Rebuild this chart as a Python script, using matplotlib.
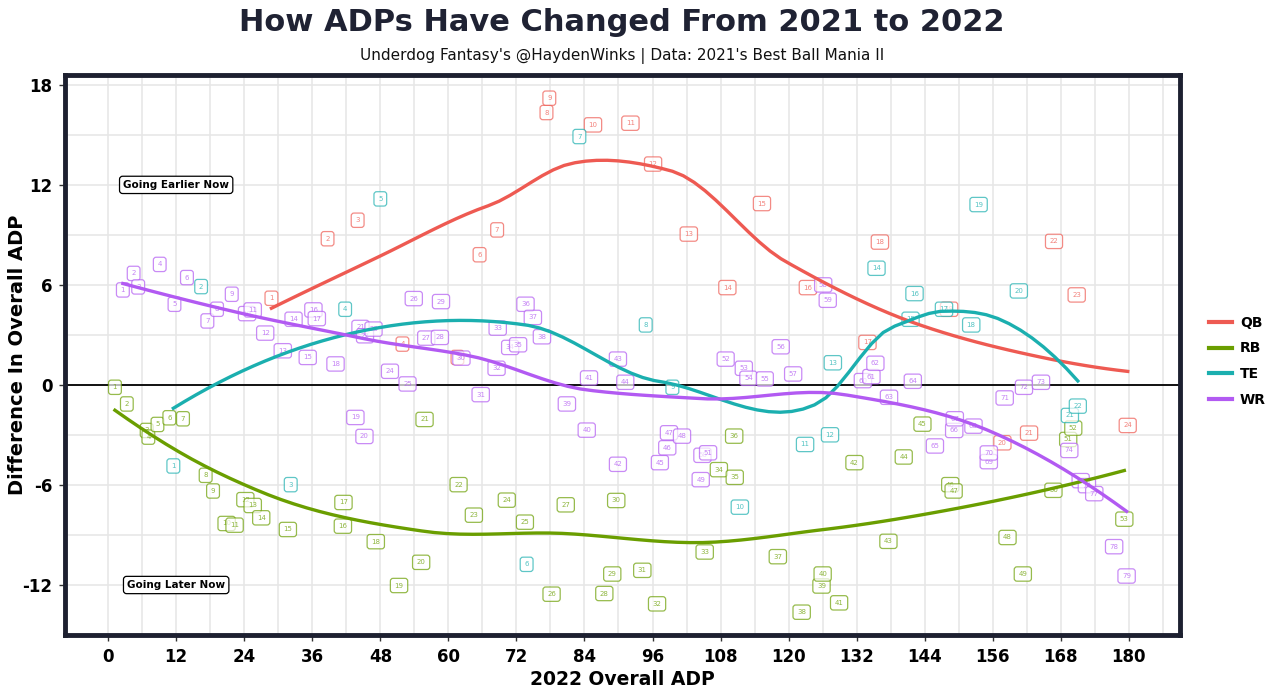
import numpy as np
import matplotlib.pyplot as plt
from matplotlib.lines import Line2D

plt.rcParams['axes.unicode_minus'] = False

# 2022 overall ADP and ADP change (2021 - 2022), labelled by positional rank
qb_adp = [28.8, 38.7, 44.0, 51.9, 61.6, 65.5, 68.6, 77.3, 77.8, 85.5, 92.1, 96.1,
          102.4, 109.2, 115.3, 123.4, 133.9, 136.1, 148.3, 157.7, 162.4, 166.8, 170.8, 179.8]
qb_diff = [5.2, 8.77, 9.88, 2.45, 1.65, 7.81, 9.3, 16.34, 17.2, 15.6, 15.7, 13.25,
           9.05, 5.84, 10.88, 5.84, 2.55, 8.57, 4.54, -3.47, -2.89, 8.61, 5.40, -2.43]

rb_adp = [1.2, 3.3, 6.8, 7.1, 8.7, 10.8, 13.2, 17.2, 18.5, 20.9, 22.3, 24.2, 25.5, 27.0,
          31.7, 41.4, 41.5, 47.2, 51.3, 55.2, 55.8, 61.8, 64.5, 70.3, 73.5, 78.2, 80.7,
          87.5, 88.9, 89.6, 94.2, 96.8, 105.2, 107.7, 110.5, 110.4, 118.1, 122.3, 125.8,
          126.0, 128.9, 131.6, 137.6, 140.3, 143.6, 148.5, 149.1, 158.6, 161.3, 166.7,
          169.3, 170.2, 179.2]
rb_diff = [-0.14, -1.14, -2.73, -3.13, -2.37, -1.97, -2.03, -5.42, -6.36, -8.31, -8.41,
           -6.88, -7.23, -7.97, -8.67, -8.47, -7.05, -9.4, -12.03, -10.64, -2.07, -5.98,
           -7.81, -6.91, -8.23, -12.55, -7.19, -12.51, -11.34, -6.93, -11.12, -13.13,
           -10.02, -5.08, -5.54, -3.07, -10.3, -13.63, -12.06, -11.34, -13.07, -4.66,
           -9.38, -4.32, -2.35, -5.98, -6.36, -9.15, -11.34, -6.32, -3.27, -2.59, -8.05]

te_adp = [11.5, 16.4, 32.2, 41.8, 48.0, 73.8, 83.1, 94.8, 99.5, 111.4, 122.9, 127.3,
          127.8, 135.5, 141.5, 142.2, 147.4, 152.2, 153.5, 160.6, 169.6, 171.0]
te_diff = [-4.86, 5.9, -5.98, 4.54, 11.16, -10.76, 14.9, 3.6, -0.14, -7.33, -3.57, -2.99,
           1.33, 7.0, 3.94, 5.48, 4.54, 3.6, 10.82, 5.64, -1.83, -1.27]

wr_adp = [2.6, 4.5, 5.3, 9.1, 11.7, 13.9, 17.5, 19.2, 21.8, 24.5, 25.5, 27.7, 30.8, 32.7,
          35.2, 36.2, 36.8, 40.1, 43.6, 45.2, 44.5, 45.3, 46.8, 49.7, 52.8, 53.9, 56.1,
          58.5, 58.7, 62.3, 65.7, 68.5, 68.7, 70.9, 72.3, 73.6, 74.9, 76.5, 80.9, 84.4,
          84.8, 89.9, 89.9, 91.2, 97.3, 98.6, 98.9, 101.2, 104.5, 104.8, 105.8, 108.9,
          112.1, 112.9, 115.8, 118.6, 120.8, 126.1, 126.9, 133.1, 134.6, 135.3, 137.7,
          141.9, 145.8, 149.2, 149.3, 152.6, 155.3, 155.3, 158.1, 161.5, 164.5, 169.5,
          171.5, 172.6, 173.9, 177.4, 179.6]
wr_diff = [5.70, 6.69, 5.88, 7.23, 4.84, 6.44, 3.84, 4.54, 5.44, 4.28, 4.50, 3.11, 2.05,
           3.94, 1.65, 4.50, 3.98, 1.26, -1.95, -3.09, 3.45, 2.95, 3.35, 0.82, 0.06, 5.18,
           2.81, 2.85, 5.0, 1.61, -0.58, 1.0, 3.41, 2.25, 2.41, 4.84, 4.05, 2.89, -1.14,
           -2.71, 0.42, -4.76, 1.55, 0.16, -4.66, -3.77, -2.87, -3.07, -5.68, -4.22, -4.07,
           1.55, 1.0, 0.4, 0.36, 2.29, 0.66, 6.0, 5.08, 0.26, 0.50, 1.30, -0.74, 0.22,
           -3.66, -2.73, -2.03, -2.47, -4.6, -4.08, -0.78, -0.14, 0.16, -3.93, -5.74,
           -6.04, -6.52, -9.7, -11.46]

positions = ['QB', 'RB', 'TE', 'WR']
series = {'QB': (qb_adp, qb_diff), 'RB': (rb_adp, rb_diff),
          'TE': (te_adp, te_diff), 'WR': (wr_adp, wr_diff)}
colors = {'QB': '#EE5A52', 'RB': '#6A9E00', 'TE': '#1BAFAF', 'WR': '#B25AF2'}


def local_fit(x, y, x0, q):
    d = np.abs(x - x0)
    h = np.sort(d)[q - 1]
    w = np.clip(1 - (d / h) ** 3, 0, None) ** 3
    X = np.column_stack([np.ones_like(x), x - x0, (x - x0) ** 2])
    W = np.diag(w)
    beta = np.linalg.lstsq(X.T @ W @ X, X.T @ W @ y, rcond=None)[0]
    return beta[0], beta[1]


def kd_vertices(x, lo, hi, fc):
    pts = np.sort(x[(x >= lo) & (x <= hi)])
    if len(pts) <= fc:
        return [lo, hi]
    m = len(pts)
    split = pts[m // 2] if m % 2 else 0.5 * (pts[m // 2 - 1] + pts[m // 2])
    if split <= lo or split >= hi:
        return [lo, hi]
    return kd_vertices(x, lo, split, fc) + kd_vertices(x, split, hi, fc)


def loess(x, y, span=0.75, n=80):
    # loess like R: fits at kd-tree vertices, cubic Hermite in between
    x = np.asarray(x, float)
    y = np.asarray(y, float)
    q = int(np.floor(len(x) * span))
    fc = max(int(np.floor(len(x) * span * 0.2)), 1)
    verts = np.unique(kd_vertices(x, x.min(), x.max(), fc))
    fits = [local_fit(x, y, v, q) for v in verts]
    vals = np.array([f[0] for f in fits])
    slopes = np.array([f[1] for f in fits])
    xs = np.linspace(x.min(), x.max(), n)
    ys = []
    for x0 in xs:
        i = min(np.searchsorted(verts, x0, side='right') - 1, len(verts) - 2)
        x1, x2 = verts[i], verts[i + 1]
        hh = x2 - x1
        t = (x0 - x1) / hh
        h00 = 2 * t ** 3 - 3 * t ** 2 + 1
        h10 = t ** 3 - 2 * t ** 2 + t
        h01 = -2 * t ** 3 + 3 * t ** 2
        h11 = t ** 3 - t ** 2
        ys.append(h00 * vals[i] + h10 * hh * slopes[i] + h01 * vals[i + 1] + h11 * hh * slopes[i + 1])
    return xs, np.array(ys)


fig = plt.figure(figsize=(12.8, 6.95), dpi=100)
ax = fig.add_axes([0.0508, 0.0863, 0.871, 0.806])

ax.set_xlim(-7.6, 189)
ax.set_ylim(-14.9, 18.6)
ax.set_xticks(range(0, 181, 12))
ax.set_yticks([-12, -6, 0, 6, 12, 18])
ax.set_xticks(range(6, 190, 12), minor=True)
ax.set_yticks(np.arange(-15, 19, 3), minor=True)
ax.grid(which='both', color='#E6E6E6', linewidth=1.1)
ax.set_axisbelow(True)
ax.axhline(0, color='black', linewidth=1.3, zorder=2)

for pos in positions:
    xs, ys = series[pos]
    c = colors[pos]
    for i, (xv, yv) in enumerate(zip(xs, ys)):
        ax.text(xv, yv, str(i + 1), fontsize=5, color=c, alpha=0.75,
                ha='center', va='center', zorder=3,
                bbox=dict(boxstyle='round,pad=0.6,rounding_size=0.4',
                          fc='white', ec=c, lw=0.9, alpha=0.7))

for pos in positions:
    xs, ys = series[pos]
    lx, ly = loess(xs, ys)
    ax.plot(lx, ly, color=colors[pos], linewidth=2.4, zorder=4)

box = dict(boxstyle='round,pad=0.35,rounding_size=0.3', fc='white', ec='black', lw=0.9)
ax.text(12, 12, 'Going Earlier Now', fontsize=7.5, fontweight='bold', ha='center',
        va='center', bbox=box, zorder=5)
ax.text(12, -12, 'Going Later Now', fontsize=7.5, fontweight='bold', ha='center',
        va='center', bbox=box, zorder=5)

for s in ax.spines.values():
    s.set_linewidth(3.5)
    s.set_color('#1D2030')
ax.tick_params(axis='both', which='major', labelsize=12, length=4, width=1,
               color='#333333', pad=5)
ax.tick_params(which='minor', length=0)
for lab in ax.get_xticklabels() + ax.get_yticklabels():
    lab.set_fontweight('bold')

ax.set_xlabel('2022 Overall ADP', fontsize=13.5, fontweight='bold', labelpad=3)
ax.set_ylabel('Difference In Overall ADP', fontsize=14, fontweight='bold')
ax.yaxis.set_label_coords(-0.034, 0.5)

fig.text(0.486, 0.968, 'How ADPs Have Changed From 2021 to 2022', fontsize=22,
         fontweight='bold', ha='center', va='center', color='#1F2233')
fig.text(0.486, 0.919, "Underdog Fantasy's @HaydenWinks | Data: 2021's Best Ball Mania II",
         fontsize=11, ha='center', va='center', color='#111111')

handles = [Line2D([0], [0], color=colors[p], lw=3) for p in positions]
fig.legend(handles, positions, loc='center left', bbox_to_anchor=(0.935, 0.48),
           frameon=False, handlelength=1.6, handletextpad=0.6, labelspacing=0.85,
           prop={'weight': 'bold', 'size': 10})

fig.savefig('out.png', dpi=100)
